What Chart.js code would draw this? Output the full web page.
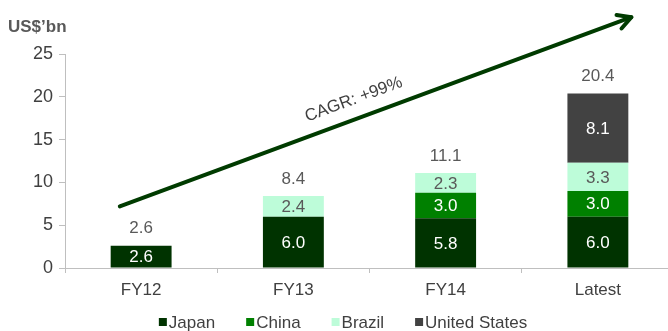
<!DOCTYPE html>
<html>
<head>
<meta charset="utf-8">
<script src="https://cdn.jsdelivr.net/npm/chart.js@4"></script>
<style>
  html, body { margin: 0; padding: 0; background: #fff; overflow: hidden; }
  #wrap { width: 680px; height: 331px; }
</style>
</head>
<body>
<div id="wrap"><canvas id="chart" width="680" height="331"></canvas></div>
<script>
/* ================== DATA ================== */
const categories = ['FY12', 'FY13', 'FY14', 'Latest'];
const japan = [2.6, 6.0, 5.8, 6.0];
const china = [null, null, 3.0, 3.0];
const brazil = [null, 2.4, 2.3, 3.3];
const unitedStates = [null, null, null, 8.1];
const totals = [2.6, 8.4, 11.1, 20.4];
const yTicks = [0, 5, 10, 15, 20, 25];
const unitLabel = 'US$\u2019bn';
const cagrLabel = 'CAGR: +99%';

/* growth arrow, in data units (category index, value) */
const arrowFrom = [-0.14, 7.2];
const arrowTo = [3.22, 29.3];

const FONT = '"Liberation Sans", Arial, sans-serif';
const TEXT = '#404040';

/* ================== LABELS, ARROW, LEGEND ================== */
const decorations = {
  id: 'decorations',
  afterDatasetsDraw(chart) {
    const { ctx, scales } = chart;
    ctx.save();
    ctx.font = '17px ' + FONT;
    ctx.textAlign = 'center';
    ctx.textBaseline = 'middle';

    // segment values
    chart.data.datasets.forEach((ds, di) => {
      const meta = chart.getDatasetMeta(di);
      meta.data.forEach((bar, i) => {
        const v = ds.data[i];
        if (v === null) return;
        ctx.fillStyle = ds.labelColor;
        ctx.fillText(v.toFixed(1), bar.x, (bar.y + bar.base) / 2 + 1);
      });
    });

    // totals above stacks
    ctx.fillStyle = '#595959';
    totals.forEach((t, i) => {
      const x = scales.x.getPixelForValue(i);
      const y = scales.y.getPixelForValue(t) - 17;
      ctx.fillText(t.toFixed(1), x, y);
    });

    // arrow
    const x1 = scales.x.getPixelForValue(arrowFrom[0]);
    const y1 = scales.y.getPixelForValue(arrowFrom[1]);
    const x2 = scales.x.getPixelForValue(arrowTo[0]);
    const y2 = scales.y.getPixelForValue(arrowTo[1]);
    const ang = Math.atan2(y2 - y1, x2 - x1);
    ctx.strokeStyle = '#003b00';
    ctx.lineWidth = 4;
    ctx.lineCap = 'round';
    ctx.lineJoin = 'round';
    ctx.beginPath();
    ctx.moveTo(x1, y1);
    ctx.lineTo(x2, y2);
    ctx.stroke();
    const head = 15;
    ctx.beginPath();
    ctx.moveTo(x2 - head * Math.cos(ang - 0.5), y2 - head * Math.sin(ang - 0.5));
    ctx.lineTo(x2, y2);
    ctx.lineTo(x2 - head * Math.cos(ang + 0.5), y2 - head * Math.sin(ang + 0.5));
    ctx.stroke();

    // CAGR text along the arrow
    const t = 0.47;
    const mx = x1 + (x2 - x1) * t;
    const my = y1 + (y2 - y1) * t;
    const off = 19;
    ctx.translate(mx + off * Math.sin(ang), my - off * Math.cos(ang));
    ctx.rotate(ang);
    ctx.fillStyle = TEXT;
    ctx.fillText(cagrLabel, 0, 0);
    ctx.restore();

    // unit label
    ctx.save();
    ctx.font = 'bold 17px ' + FONT;
    ctx.fillStyle = '#595959';
    ctx.textAlign = 'left';
    ctx.textBaseline = 'middle';
    ctx.fillText(unitLabel, 8, 27);

    // legend, tight box-to-text like the original
    ctx.font = '17px ' + FONT;
    const box = 8, gap = 2, spacing = 31, ly = 322;
    const items = chart.data.datasets.map(ds => ({
      text: ds.label, color: ds.backgroundColor, w: box + gap + ctx.measureText(ds.label).width
    }));
    const total = items.reduce((s, it) => s + it.w, 0) + spacing * (items.length - 1);
    let lx = 343 - total / 2;
    items.forEach(it => {
      ctx.fillStyle = it.color;
      ctx.fillRect(lx, ly - box / 2, box, box);
      ctx.fillStyle = TEXT;
      ctx.fillText(it.text, lx + box + gap, ly + 1);
      lx += it.w + spacing;
    });
    ctx.restore();
  }
};

/* ================== CHART ================== */
const ctx = document.getElementById('chart').getContext('2d');
new Chart(ctx, {
  type: 'bar',
  data: {
    labels: categories,
    datasets: [
      { label: 'Japan', data: japan, backgroundColor: '#003300', labelColor: '#ffffff' },
      { label: 'China', data: china, backgroundColor: '#008000', labelColor: '#ffffff' },
      { label: 'Brazil', data: brazil, backgroundColor: '#bdfcd9', labelColor: '#595959' },
      { label: 'United States', data: unitedStates, backgroundColor: '#424242', labelColor: '#ffffff' }
    ].map(d => Object.assign(d, { barPercentage: 0.8, categoryPercentage: 0.5, borderWidth: 0 }))
  },
  options: {
    responsive: false,
    animation: false,
    layout: { padding: { left: 14, top: 54, right: 6, bottom: 0 } },
    scales: {
      x: {
        stacked: true,
        afterFit: s => { s.height = 63; },
        grid: { offset: true, drawOnChartArea: false, tickLength: 5, color: '#bfbfbf' },
        border: { color: '#bfbfbf' },
        ticks: { color: TEXT, font: { family: FONT, size: 17 }, padding: 7 }
      },
      y: {
        stacked: true,
        min: 0,
        max: 25,
        afterFit: s => { s.width = 51; },
        afterBuildTicks: s => { s.ticks = yTicks.map(v => ({ value: v })); },
        grid: { drawOnChartArea: false, tickLength: 6, color: '#bfbfbf' },
        border: { color: '#bfbfbf' },
        ticks: { color: TEXT, font: { family: FONT, size: 18 }, padding: 6 }
      }
    },
    plugins: {
      legend: { display: false },
      tooltip: { enabled: false }
    }
  },
  plugins: [decorations]
});
</script>
</body>
</html>
